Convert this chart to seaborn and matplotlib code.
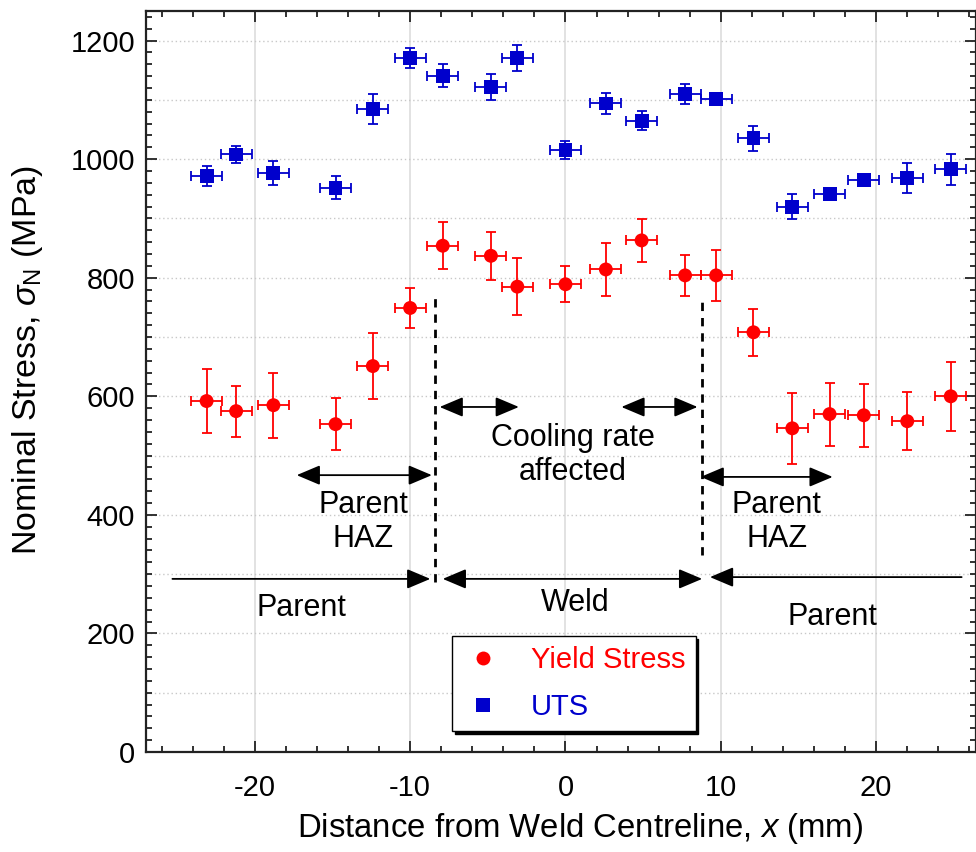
"""
Nominal stress across the weld: yield stress and UTS vs distance from centreline
"""

import pandas as pd
import matplotlib.pyplot as plt
import seaborn as sns
import numpy as np
from matplotlib.ticker import MultipleLocator

# Data
x_pos = [-23.1, -21.2, -18.8, -14.8, -12.4, -10.0, -7.9, -4.8, -3.1, 0.0,
         2.6, 4.9, 7.7, 9.7, 12.1, 14.6, 17.0, 19.2, 22.0, 24.8]
x_err = [1.0] * 20

yield_stress = [592, 575, 585, 553, 651, 749, 854, 837, 785, 789,
                814, 863, 804, 804, 708, 546, 570, 568, 558, 600]
yield_err = [54, 43, 55, 44, 56, 34, 40, 40, 48, 30,
             45, 36, 35, 43, 40, 60, 53, 53, 49, 58]

uts = [971, 1008, 977, 952, 1085, 1171, 1141, 1122, 1171, 1016,
       1094, 1065, 1110, 1101, 1035, 920, 942, 965, 968, 983]
uts_err = [17, 14, 20, 20, 25, 17, 20, 22, 22, 15,
           17, 16, 17, 10, 21, 21, 10, 10, 25, 26]

series_names = ['Yield Stress', 'UTS']
colors = {'Yield Stress': '#ff0000', 'UTS': '#0000cc'}

sns.set_theme(style="ticks")
plt.rcParams['font.family'] = ['Liberation Sans', 'DejaVu Sans']
plt.rcParams['mathtext.fontset'] = 'custom'
plt.rcParams['mathtext.rm'] = 'Liberation Sans'
plt.rcParams['mathtext.it'] = 'Liberation Sans:italic'
plt.rcParams['axes.unicode_minus'] = False
plt.rcParams['text.color'] = 'black'
plt.rcParams['axes.labelcolor'] = 'black'
plt.rcParams['xtick.color'] = 'black'
plt.rcParams['ytick.color'] = 'black'

df = pd.DataFrame({
    'x': x_pos * 2,
    'stress': yield_stress + uts,
    'kind': [series_names[0]] * len(x_pos) + [series_names[1]] * len(x_pos),
})

fig = plt.figure(figsize=(9.76, 8.52), dpi=100)
ax = fig.add_axes([0.1496, 0.1174, 0.850, 0.8697])

# grid
for gx in [-20, -10, 0, 10, 20]:
    ax.axvline(gx, color='#dddddd', lw=1.2, zorder=0)
for gy in np.arange(100, 1300, 100):
    ax.axhline(gy, color='#c8c8c8', lw=1.0, ls=(0, (1, 2)), zorder=0)

# error bars
ax.errorbar(x_pos, yield_stress, xerr=x_err, yerr=yield_err, fmt='none',
            ecolor=colors['Yield Stress'], elinewidth=1.3, capsize=3.5, capthick=1.3, zorder=2)
ax.errorbar(x_pos, uts, xerr=x_err, yerr=uts_err, fmt='none',
            ecolor=colors['UTS'], elinewidth=1.3, capsize=3.5, capthick=1.3, zorder=2)

sns.scatterplot(data=df, x='x', y='stress', hue='kind', style='kind',
                markers={'Yield Stress': 'o', 'UTS': 's'}, palette=colors,
                s=100, linewidth=0, ax=ax, zorder=3)

ax.set_xlim(-27, 26.4)
ax.set_ylim(0, 1250)
ax.xaxis.set_major_locator(MultipleLocator(10))
ax.xaxis.set_minor_locator(MultipleLocator(2))
ax.yaxis.set_major_locator(MultipleLocator(200))
ax.yaxis.set_minor_locator(MultipleLocator(20))
ax.tick_params(which='both', direction='in', top=True, right=True, width=1.3, color='#222222')
ax.tick_params(which='major', length=8, labelsize=21)
ax.tick_params(which='minor', length=4.5)
ax.tick_params(axis='x', pad=16)
ax.tick_params(axis='y', pad=8)
for sp in ax.spines.values():
    sp.set_linewidth(1.6)
    sp.set_color('#222222')

ax.set_xlabel('Distance from Weld Centreline, $x$ (mm)', fontsize=23.7)
ax.set_ylabel(r'Nominal Stress, $\sigma_{\mathrm{N}}$ (MPa)', fontsize=24.5)
ax.xaxis.set_label_coords(0.523, -0.08)
ax.yaxis.set_label_coords(-0.122, 0.529)

# zone boundaries
ax.plot([-8.4, -8.4], [287, 766], color='black', ls=(0, (3, 2.5)), lw=2.0, zorder=4)
ax.plot([8.8, 8.8], [332, 766], color='black', ls=(0, (3, 2.5)), lw=2.0, zorder=4)

arrow_kw = dict(color='black', lw=1.3, shrinkA=0, shrinkB=0, mutation_scale=16)
double = dict(arrowstyle='<|-|>,head_length=0.9,head_width=0.38', **arrow_kw)
single = dict(arrowstyle='-|>,head_length=0.9,head_width=0.38', **arrow_kw)

ax.annotate('', xy=(-3.0, 582), xytext=(-8.1, 582), arrowprops=double)
ax.annotate('', xy=(8.5, 582), xytext=(3.6, 582), arrowprops=double)
ax.annotate('', xy=(-8.6, 467), xytext=(-17.3, 467), arrowprops=double)
ax.annotate('', xy=(17.2, 464), xytext=(8.7, 464), arrowprops=double)
ax.annotate('', xy=(-8.7, 292), xytext=(-25.3, 292), arrowprops=single)
ax.annotate('', xy=(8.8, 292), xytext=(-7.9, 292), arrowprops=double)
ax.annotate('', xy=(9.3, 295), xytext=(25.5, 295), arrowprops=single)

txt = dict(ha='center', va='center', fontsize=22, color='black', linespacing=1.15)
ax.text(0.45, 501, 'Cooling rate\naffected', **txt)
ax.text(-13.0, 388, 'Parent\nHAZ', **txt)
ax.text(13.6, 388, 'Parent\nHAZ', **txt)
ax.text(-17.0, 243, 'Parent', **txt)
ax.text(0.6, 251, 'Weld', **txt)
ax.text(17.2, 228, 'Parent', **txt)

handles, labels = ax.get_legend_handles_labels()
leg = ax.legend(handles, labels, loc='lower left', bbox_to_anchor=(0.369, 0.028),
                borderaxespad=0, fontsize=21, frameon=True, fancybox=False,
                shadow={'color': 'black', 'alpha': 1.0}, handletextpad=0.95,
                borderpad=0.35, labelspacing=0.65, markerscale=1.0, handlelength=1.4)
leg.get_frame().set_edgecolor('black')
leg.get_frame().set_linewidth(1.0)
leg.get_frame().set_alpha(1.0)
for t, name in zip(leg.get_texts(), labels):
    t.set_color(colors.get(name, 'black'))

fig.savefig('out.png', dpi=100)
